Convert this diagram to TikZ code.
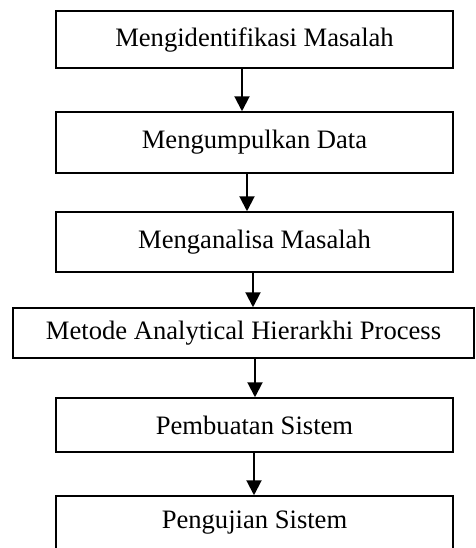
\documentclass[tikz,border=0pt]{standalone}
\usepackage{fontspec}
\setmainfont{Liberation Serif}
\usetikzlibrary{arrows.meta,positioning}
\definecolor{linedark}{HTML}{000000}
\tikzset{
  >=Latex,
  stepbox/.style={
    rectangle, draw=linedark, line width=0.75pt, inner sep=0pt,
    minimum width=198.5pt, align=center,
    font=\fontsize{13.3}{16}\selectfont, text=linedark
  },
  widebox/.style={stepbox, minimum width=230.5pt},
  arrow/.style={-{Triangle[length=7.5pt,width=7.5pt]}, line width=1pt, draw=linedark}
}

\begin{document}
\begin{tikzpicture}[x=0.5pt,y=-0.5pt]
\clip (0,0) rectangle (476,548);
\node[stepbox, minimum height=28.5pt] (identifikasi) at (254.5,39.5) {Mengidentifikasi Masalah};
\node[stepbox, minimum height=30.5pt] (kumpul) at (254.5,142.5) {Mengumpulkan Data};
\node[stepbox, minimum height=30pt] (analisa) at (254.5,242) {Menganalisa Masalah};
\node[widebox, minimum height=25pt] (ahp) at (243.5,333) {Metode Analytical Hierarkhi Process};
\node[stepbox, minimum height=27pt] (sistem) at (254.5,425) {Pembuatan Sistem};
\node[stepbox, minimum height=27pt] (uji) at (254.5,523) {Pengujian Sistem};
\draw[arrow] ([xshift=-6.25pt]identifikasi.south) -- ([xshift=-6.25pt]kumpul.north);
\draw[arrow] ([xshift=-3.75pt]kumpul.south) -- ([xshift=-3.75pt]analisa.north);
\draw[arrow] ([xshift=-0.75pt]analisa.south) -- ([xshift=4.75pt]ahp.north);
\draw[arrow] ([xshift=5.75pt]ahp.south) -- ([xshift=0.25pt]sistem.north);
\draw[arrow] ([xshift=-0.25pt]sistem.south) -- ([xshift=-0.25pt]uji.north);
\end{tikzpicture}
\end{document}
